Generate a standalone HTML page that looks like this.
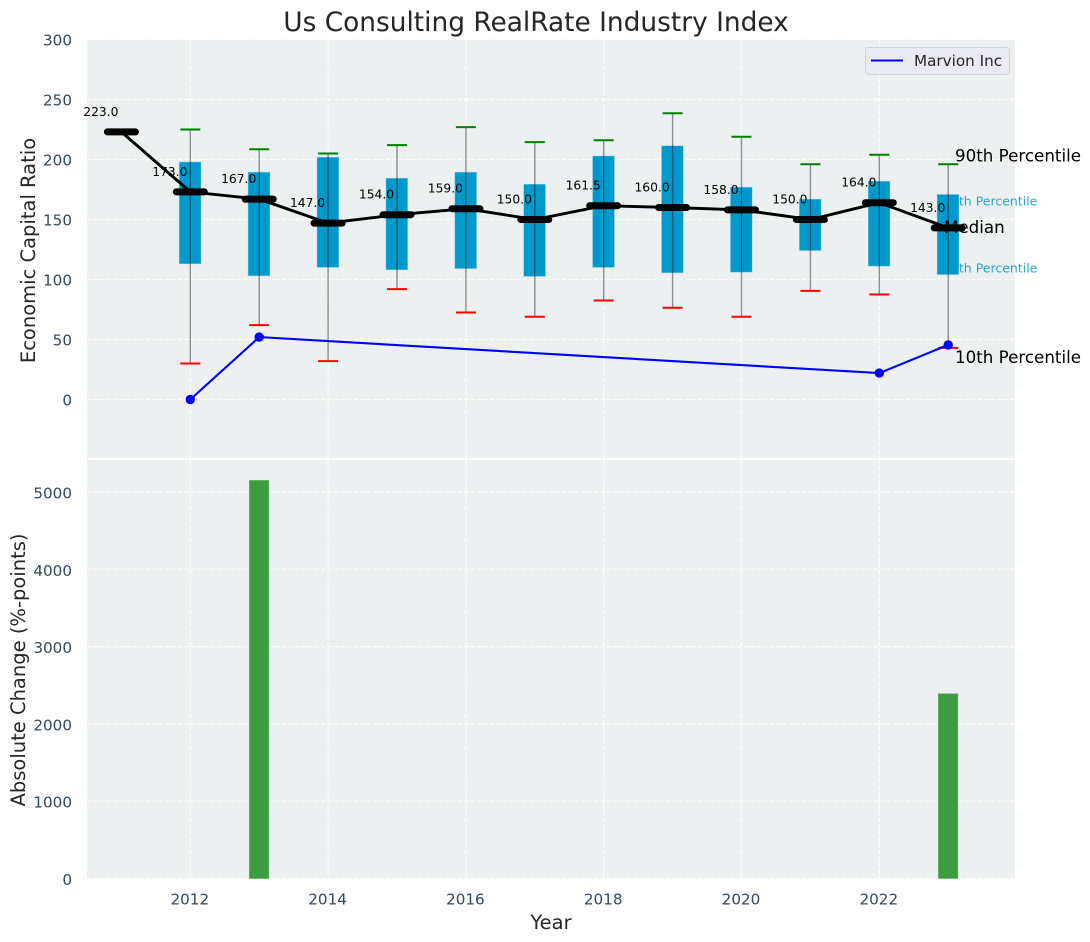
<!DOCTYPE html>
<html>
<head>
<meta charset="utf-8">
<title>Us Consulting RealRate Industry Index</title>
<style>
html,body{margin:0;padding:0;background:#fff;}
svg{display:block;font-family:"DejaVu Sans","Liberation Sans",sans-serif;}
</style>
</head>
<body>
<svg id="chart" width="1090" height="942" viewBox="0 0 1090 942" xmlns="http://www.w3.org/2000/svg"></svg>
<script>
const years = [2011,2012,2013,2014,2015,2016,2017,2018,2019,2020,2021,2022,2023];
const medianValues = [223,173,167,147,154,159,150,161.5,160,158,150,164,143];
const medianLabels = ['223.0','173.0','167.0','147.0','154.0','159.0','150.0','161.5','160.0','158.0','150.0','164.0','143.0'];
const p90Values = [null,225,208.5,205,212,227,214.5,216,238.5,219,196,204,196];
const p75Values = [null,198,189.5,202,184.5,189.5,179.5,203,211.5,177,167,182,171];
const p25Values = [null,113,103,110,108,109,102.5,110,105.5,106,124,111,104];
const p10Values = [null,30,62,32,92,72.5,69,82.5,76.5,69,90.5,87.5,43];
const companyValues = [null,0,52,null,null,null,null,null,null,null,null,22,45.5];
const changeValues = [null,null,5150,null,null,null,null,null,null,null,null,null,2390];
const xTicks = [2012,2014,2016,2018,2020,2022];
const yTicksTop = [0,50,100,150,200,250,300];
const yTicksBottom = [0,1000,2000,3000,4000,5000];

const NS = 'http://www.w3.org/2000/svg';
const svg = document.getElementById('chart');
const L = 87, R = 1015;
const xScale = y => 190.3 + (y - 2012) * 68.9;
const yTop = v => 399.5 - v * 1.2;
const yBottom = v => 878.5 - v * 0.0773;

function mk(tag, attrs, parent, txt){
  const e = document.createElementNS(NS, tag);
  for (const k in attrs) e.setAttribute(k, attrs[k]);
  if (txt !== undefined) e.textContent = txt;
  (parent || svg).appendChild(e);
  return e;
}
function g(name){
  const e = mk('g', {});
  
  
  return e;
}

/* panels */
const bgs = g('plot-backgrounds');
mk('rect', {x:L, y:39.5, width:R-L, height:418.5, fill:'#ecf0f1'}, bgs);
mk('rect', {x:L, y:460, width:R-L, height:419, fill:'#ecf0f1'}, bgs);

/* grid */
const gridG = g('grid-lines');
const dash = {stroke:'#ffffff', 'stroke-width':1.2, 'stroke-dasharray':'4.5 2', opacity:.9};
xTicks.forEach(t => {
  mk('line', Object.assign({x1:xScale(t), x2:xScale(t), y1:39.5, y2:458}, dash), gridG);
  mk('line', Object.assign({x1:xScale(t), x2:xScale(t), y1:460, y2:879}, dash), gridG);
});
yTicksTop.forEach(t => {
  mk('line', Object.assign({x1:L, x2:R, y1:yTop(t), y2:yTop(t)}, dash), gridG);
});
yTicksBottom.forEach(t => {
  mk('line', Object.assign({x1:L, x2:R, y1:yBottom(t), y2:yBottom(t)}, dash), gridG);
});

/* tick labels */
const tickG = g('tick-labels');
const tickStyle = {fill:'#34495e', 'font-size':15.2};
yTicksTop.forEach(t => {
  const e = mk('text', Object.assign({x:72, y:yTop(t)+6, 'text-anchor':'end'}, tickStyle), tickG, String(t));
  
  
});
yTicksBottom.forEach(t => {
  const e = mk('text', Object.assign({x:72, y:yBottom(t)+6.5, 'text-anchor':'end'}, tickStyle), tickG, String(t));
  
  
});
xTicks.forEach(t => {
  const e = mk('text', Object.assign({x:xScale(t)-0.5, y:904.5, 'text-anchor':'middle'}, tickStyle), tickG, String(t));
  
  
});

/* titles */
const title = mk('text', {x:536, y:31, 'text-anchor':'middle', 'font-size':26.4, fill:'#262626'}, svg, 'Us Consulting RealRate Industry Index');


const yl1 = mk('text', {transform:'translate(35 250.5) rotate(-90)', 'text-anchor':'middle', 'font-size':19.5, fill:'#262626'}, svg, 'Economic Capital Ratio');


const yl2 = mk('text', {transform:'translate(25 670) rotate(-90)', 'text-anchor':'middle', 'font-size':19.5, fill:'#262626'}, svg, 'Absolute Change (%-points)');


const xl = mk('text', {x:551, y:929, 'text-anchor':'middle', 'font-size':19.5, fill:'#262626'}, svg, 'Year');



/* percentile key behind the last box */
const lastIdx = years.length - 1;
const keyG = g('percentile-key');
const p75Key = mk('text', {x:943, y:yTop(p75Values[lastIdx] + 0.2) + 11.5, 'font-size':12.5, fill:'#0099cc', opacity:.85}, keyG, '75th Percentile');


const p25Key = mk('text', {x:943, y:yTop(p25Values[lastIdx]) - 2, 'font-size':12.5, fill:'#0099cc', opacity:.85}, keyG, '25th Percentile');



/* boxes */
const boxG = g('percentile-boxes');
years.forEach((yr, i) => {
  if (p75Values[i] === null) return;
  const e = mk('rect', {
    x: xScale(yr) - 11.2, y: yTop(p75Values[i]), width: 22,
    height: yTop(p25Values[i]) - yTop(p75Values[i]),
    fill: '#0099cc', stroke: '#bfe3ee', 'stroke-opacity': .6, 'stroke-width': .8
  }, boxG);
  
  
});

/* whiskers */
const whG = g('percentile-whiskers');
years.forEach((yr, i) => {
  if (p90Values[i] === null) return;
  const x = xScale(yr);
  const w = mk('line', {x1:x, x2:x, y1:yTop(p90Values[i]), y2:yTop(p10Values[i]), stroke:'#000', 'stroke-opacity':.42, 'stroke-width':1.4}, whG);
  
  
  const c1 = mk('line', {x1:x-10, x2:x+10, y1:yTop(p90Values[i]), y2:yTop(p90Values[i]), stroke:'#008000', 'stroke-width':2}, whG);
  
  
  const c2 = mk('line', {x1:x-10, x2:x+10, y1:yTop(p10Values[i]), y2:yTop(p10Values[i]), stroke:'#ff0000', 'stroke-width':2}, whG);
  
  
});

/* side labels */
const sideG = g('percentile-side-labels');
const s90 = mk('text', {x:955, y:yTop(p90Values[lastIdx]) - 3, 'font-size':16.7, fill:'#000'}, sideG, '90th Percentile');


const sMed = mk('text', {x:944, y:yTop(medianValues[lastIdx]) + 5, 'font-size':16.7, fill:'#000'}, sideG, 'Median');


const s10 = mk('text', {x:955, y:yTop(p10Values[lastIdx]) + 15, 'font-size':16.7, fill:'#000'}, sideG, '10th Percentile');



/* median labels */
const mlG = g('median-value-labels');
years.forEach((yr, i) => {
  const e = mk('text', {x:xScale(yr)-20.5, y:yTop(medianValues[i])-16, 'text-anchor':'middle', 'font-size':12.3, fill:'#000'}, mlG, medianLabels[i]);
  
  
});

/* median line and dashes */
const medG = g('median-series');
const medPts = years.map((yr, i) => xScale(yr) + ',' + yTop(medianValues[i])).join(' ');
const medLine = mk('polyline', {points:medPts, fill:'none', stroke:'#000', 'stroke-width':2.9}, medG);


years.forEach((yr, i) => {
  const x = xScale(yr), y = yTop(medianValues[i]);
  const e = mk('line', {x1:x-14, x2:x+14, y1:y, y2:y, stroke:'#000', 'stroke-width':7, 'stroke-linecap':'round'}, medG);
  
  
});

/* company series */
const coG = g('marvion-series');
const coPts = [];
years.forEach((yr, i) => {
  if (companyValues[i] !== null) coPts.push(xScale(yr) + ',' + yTop(companyValues[i]));
});
const coLine = mk('polyline', {points:coPts.join(' '), fill:'none', stroke:'#0000ff', 'stroke-width':2.1}, coG);


years.forEach((yr, i) => {
  if (companyValues[i] === null) return;
  const e = mk('circle', {cx:xScale(yr), cy:yTop(companyValues[i]), r:4.7, fill:'#0000ff'}, coG);
  
  
});

/* bars */
const barG = g('absolute-change-bars');
years.forEach((yr, i) => {
  if (changeValues[i] === null) return;
  const e = mk('rect', {
    x: xScale(yr) - 9.8, y: yBottom(changeValues[i]), width: 19.4,
    height: yBottom(0) - yBottom(changeValues[i]),
    fill: '#3d9c3f', stroke: '#5ab45c', 'stroke-width': .6
  }, barG);
  
  
});

/* legend */
const lg = g('legend');
mk('rect', {x:865.5, y:47.5, width:144, height:27, rx:3, fill:'#eaeaf2', stroke:'#d3d3d8', 'stroke-width':1}, lg);
const lgLine = mk('line', {x1:871, x2:903, y1:60.5, y2:60.5, stroke:'#0000ff', 'stroke-width':2}, lg);


const lgText = mk('text', {x:914, y:66, 'font-size':15.2, fill:'#262626'}, lg, 'Marvion Inc');


</script>
</body>
</html>
